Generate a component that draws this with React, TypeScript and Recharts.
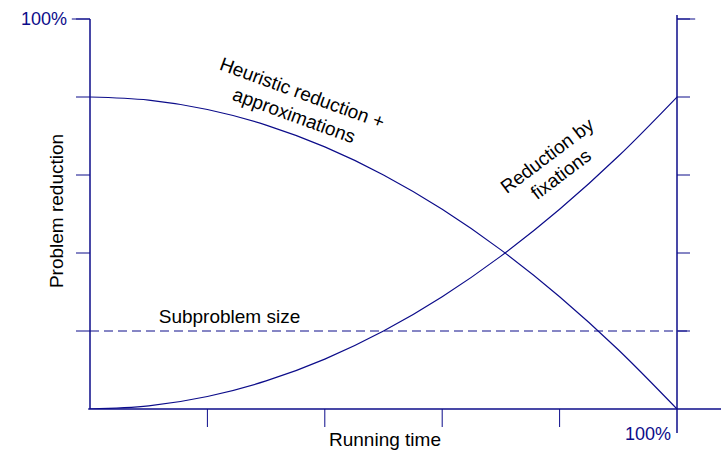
import React from 'react';
import { LineChart, Line, XAxis, YAxis, ReferenceLine, Customized } from 'recharts';

const runningTime = [0, 0.1, 0.2, 0.3, 0.4, 0.5, 0.6, 0.7, 0.8, 0.9, 1];
const heuristicReduction = [0.8, 0.792, 0.768, 0.728, 0.672, 0.6, 0.512, 0.408, 0.288, 0.152, 0];
const fixationReduction = [0, 0.008, 0.032, 0.072, 0.128, 0.2, 0.288, 0.392, 0.512, 0.648, 0.8];
const subproblemSize = 0.2;
const xTicks = [0.2, 0.4, 0.6, 0.8];
const yTicks = [0.2, 0.4, 0.6, 0.8, 1];
const rightTicks = [0.2, 0.4, 0.6, 0.8, 1];

const data = runningTime.map((x, i) => ({ x, h: heuristicReduction[i], f: fixationReduction[i] }));

const NAVY = '#0c0c8a';
const FONT = 'Liberation Sans, Arial, sans-serif';

const EmptyTick = () => <g />;

const Annotations = () => (
  <g fontFamily={FONT} fontSize={19} fill="#000">
    <text x={63} y={211} textAnchor="middle" transform="rotate(-90 63 211)">Problem reduction</text>
    <text x={385} y={446} textAnchor="middle">Running time</text>
    <text x={229.5} y={323} textAnchor="middle">Subproblem size</text>
    <text x={67} y={25} textAnchor="end" fontSize={18} fill={NAVY}>100%</text>
    <text x={671} y={440} textAnchor="end" fontSize={18} fill={NAVY}>100%</text>
    <g transform="rotate(20 300 99)">
      <text x={300} y={99} textAnchor="middle">Heuristic reduction +</text>
      <text x={300} y={123} textAnchor="middle">approximations</text>
    </g>
    <g transform="rotate(-37 551 161)">
      <text x={551} y={161} textAnchor="middle">Reduction by</text>
      <text x={551} y={184} textAnchor="middle">fixations</text>
    </g>
  </g>
);

export default function App() {
  return (
    <div style={{ position: 'absolute', left: 0, top: 0 }}>
      <LineChart width={721} height={450} data={data} margin={{ top: 19, right: 0, bottom: 0, left: 0 }}>
        <XAxis
          type="number"
          dataKey="x"
          domain={[0, 1]}
          ticks={xTicks}
          tickSize={18}
          tick={EmptyTick}
          axisLine={false}
          tickLine={{ stroke: NAVY }}
          height={41}
        />
        <YAxis
          yAxisId="left"
          type="number"
          domain={[0, 1]}
          ticks={yTicks}
          tickSize={14}
          tick={EmptyTick}
          axisLine={{ stroke: NAVY, strokeWidth: 1.5 }}
          tickLine={{ stroke: NAVY }}
          width={90}
          allowDataOverflow
        />
        <YAxis
          yAxisId="right"
          orientation="right"
          type="number"
          domain={[0, 1]}
          ticks={rightTicks}
          tickSize={13}
          tick={EmptyTick}
          axisLine={false}
          tickLine={{ stroke: NAVY }}
          width={44}
          allowDataOverflow
        />
        <ReferenceLine yAxisId="left" segment={[{ x: -0.003, y: 0 }, { x: 1.08, y: 0 }]} stroke={NAVY} strokeWidth={1.5} ifOverflow="visible" />
        <ReferenceLine yAxisId="left" segment={[{ x: 1, y: -0.0615 }, { x: 1, y: 1.01 }]} stroke={NAVY} strokeWidth={1.5} ifOverflow="visible" />
        <ReferenceLine yAxisId="left" segment={[{ x: -0.031, y: 1 }, { x: 0, y: 1 }]} stroke={NAVY} ifOverflow="visible" />
        <ReferenceLine yAxisId="left" segment={[{ x: 1, y: 1 }, { x: 1.031, y: 1 }]} stroke={NAVY} ifOverflow="visible" />
        <ReferenceLine yAxisId="left" segment={[{ x: 0, y: subproblemSize }, { x: 1.024, y: subproblemSize }]} stroke={NAVY} strokeDasharray="9 5" ifOverflow="visible" />
        <Line yAxisId="left" type="monotone" dataKey="h" stroke={NAVY} strokeWidth={1.2} dot={false} isAnimationActive={false} />
        <Line yAxisId="left" type="monotone" dataKey="f" stroke={NAVY} strokeWidth={1.2} dot={false} isAnimationActive={false} />
        <Customized component={Annotations} />
      </LineChart>
    </div>
  );
}
